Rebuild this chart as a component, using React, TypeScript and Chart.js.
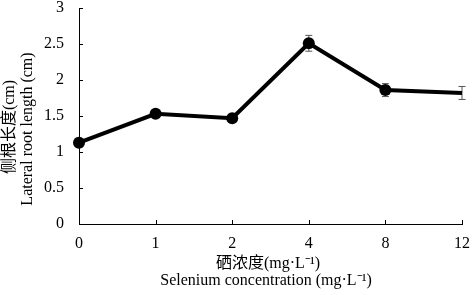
import React, { useEffect, useRef } from "react";
import { Chart, registerables } from "chart.js";

Chart.register(...registerables);

const categories = ["0", "1", "2", "4", "8", "12"];
const meanValues = [1.13, 1.53, 1.47, 2.51, 1.86, 1.82];
const errorValues = [0.06, 0.04, 0.03, 0.11, 0.09, 0.09];
const markerRadii = [6, 6, 6, 6, 6, 0];
const yTitleLines = ["侧根长度(cm)", "Lateral root length (cm)"];
const xTitleLines = ["硒浓度(mg·L⁻¹)", "Selenium concentration (mg·L⁻¹)"];

const FONT = "'Liberation Serif', 'Times New Roman', 'Noto Sans CJK SC', serif";

const errorBarPlugin = {
  id: "errorBars",
  beforeDatasetsDraw(chart: any) {
    const ctx = chart.ctx;
    const xs = chart.scales.x;
    const ys = chart.scales.y;
    ctx.save();
    ctx.strokeStyle = "#555555";
    ctx.lineWidth = 1;
    meanValues.forEach((v, i) => {
      const x = xs.getPixelForValue(i);
      const yt = ys.getPixelForValue(v + errorValues[i]);
      const yb = ys.getPixelForValue(v - errorValues[i]);
      ctx.beginPath();
      ctx.moveTo(x, yt);
      ctx.lineTo(x, yb);
      ctx.moveTo(x - 3.5, yt);
      ctx.lineTo(x + 3.5, yt);
      ctx.moveTo(x - 3.5, yb);
      ctx.lineTo(x + 3.5, yb);
      ctx.stroke();
    });
    ctx.restore();
  },
};

const innerTicksAndTitles = {
  id: "innerTicksAndTitles",
  afterDraw(chart: any) {
    const ctx = chart.ctx;
    const xs = chart.scales.x;
    const ys = chart.scales.y;
    const area = chart.chartArea;
    ctx.save();
    ctx.strokeStyle = "#000";
    ctx.lineWidth = 1;
    ctx.beginPath();
    ys.ticks.forEach((t: any) => {
      const y = Math.round(ys.getPixelForValue(t.value)) + 0.5;
      ctx.moveTo(area.left, y);
      ctx.lineTo(area.left + 4, y);
    });
    categories.forEach((_, i) => {
      const x = Math.round(xs.getPixelForValue(i)) + 0.5;
      ctx.moveTo(x, area.bottom);
      ctx.lineTo(x, area.bottom - 4);
    });
    ctx.stroke();

    ctx.fillStyle = "#000";
    ctx.font = "16px " + FONT;
    ctx.textAlign = "center";
    ctx.textBaseline = "middle";
    ctx.fillText(xTitleLines[0], 268, 264);
    ctx.fillText(xTitleLines[1], 266, 281);

    ctx.save();
    ctx.translate(10, 127);
    ctx.rotate(-Math.PI / 2);
    ctx.fillText(yTitleLines[0], 0, 0);
    ctx.restore();
    ctx.save();
    ctx.translate(28, 129);
    ctx.rotate(-Math.PI / 2);
    ctx.fillText(yTitleLines[1], 0, 0);
    ctx.restore();
    ctx.restore();
  },
};

export default function App() {
  const ref = useRef<HTMLCanvasElement | null>(null);
  useEffect(() => {
    if (!ref.current) return;
    const chart = new Chart(ref.current, {
      type: "line",
      data: {
        labels: categories,
        datasets: [
          {
            data: meanValues,
            borderColor: "#000",
            backgroundColor: "#000",
            borderWidth: 4,
            pointRadius: markerRadii,
            pointBackgroundColor: "#000",
            pointBorderColor: "#000",
            pointBorderWidth: 0,
            tension: 0,
            clip: false as any,
          },
        ],
      },
      options: {
        responsive: false,
        animation: false,
        devicePixelRatio: 1,
        layout: { padding: { top: 8, right: 10, left: 0, bottom: 0 } },
        plugins: { legend: { display: false }, tooltip: { enabled: false } },
        scales: {
          x: {
            type: "category",
            offset: false,
            grid: { display: false, drawTicks: false },
            border: { display: true, color: "#000", width: 1 },
            ticks: { color: "#000", font: { family: FONT, size: 16 }, padding: 10, maxRotation: 0, autoSkip: false },
            afterFit(s: any) {
              s.height = 71;
              s.paddingLeft = 0;
              s.paddingRight = 0;
              s.paddingTop = 0;
              s.paddingBottom = 0;
            },
          },
          y: {
            min: 0,
            max: 3,
            grid: { display: false, drawTicks: false },
            border: { display: true, color: "#000", width: 1 },
            ticks: {
              stepSize: 0.5,
              color: "#000",
              font: { family: FONT, size: 16 },
              padding: 15,
              callback: (v: any) => String(Number(v)),
            },
            afterFit(s: any) {
              s.width = 79;
              s.paddingLeft = 0;
              s.paddingRight = 0;
              s.paddingTop = 0;
              s.paddingBottom = 0;
            },
          },
        },
      },
      plugins: [errorBarPlugin, innerTicksAndTitles],
    });
    return () => chart.destroy();
  }, []);
  return (
    <div style={{ position: "fixed", left: 0, top: 0, width: 472, height: 295, background: "#fff" }}>
      <canvas ref={ref} width={472} height={295} style={{ display: "block" }} />
    </div>
  );
}
